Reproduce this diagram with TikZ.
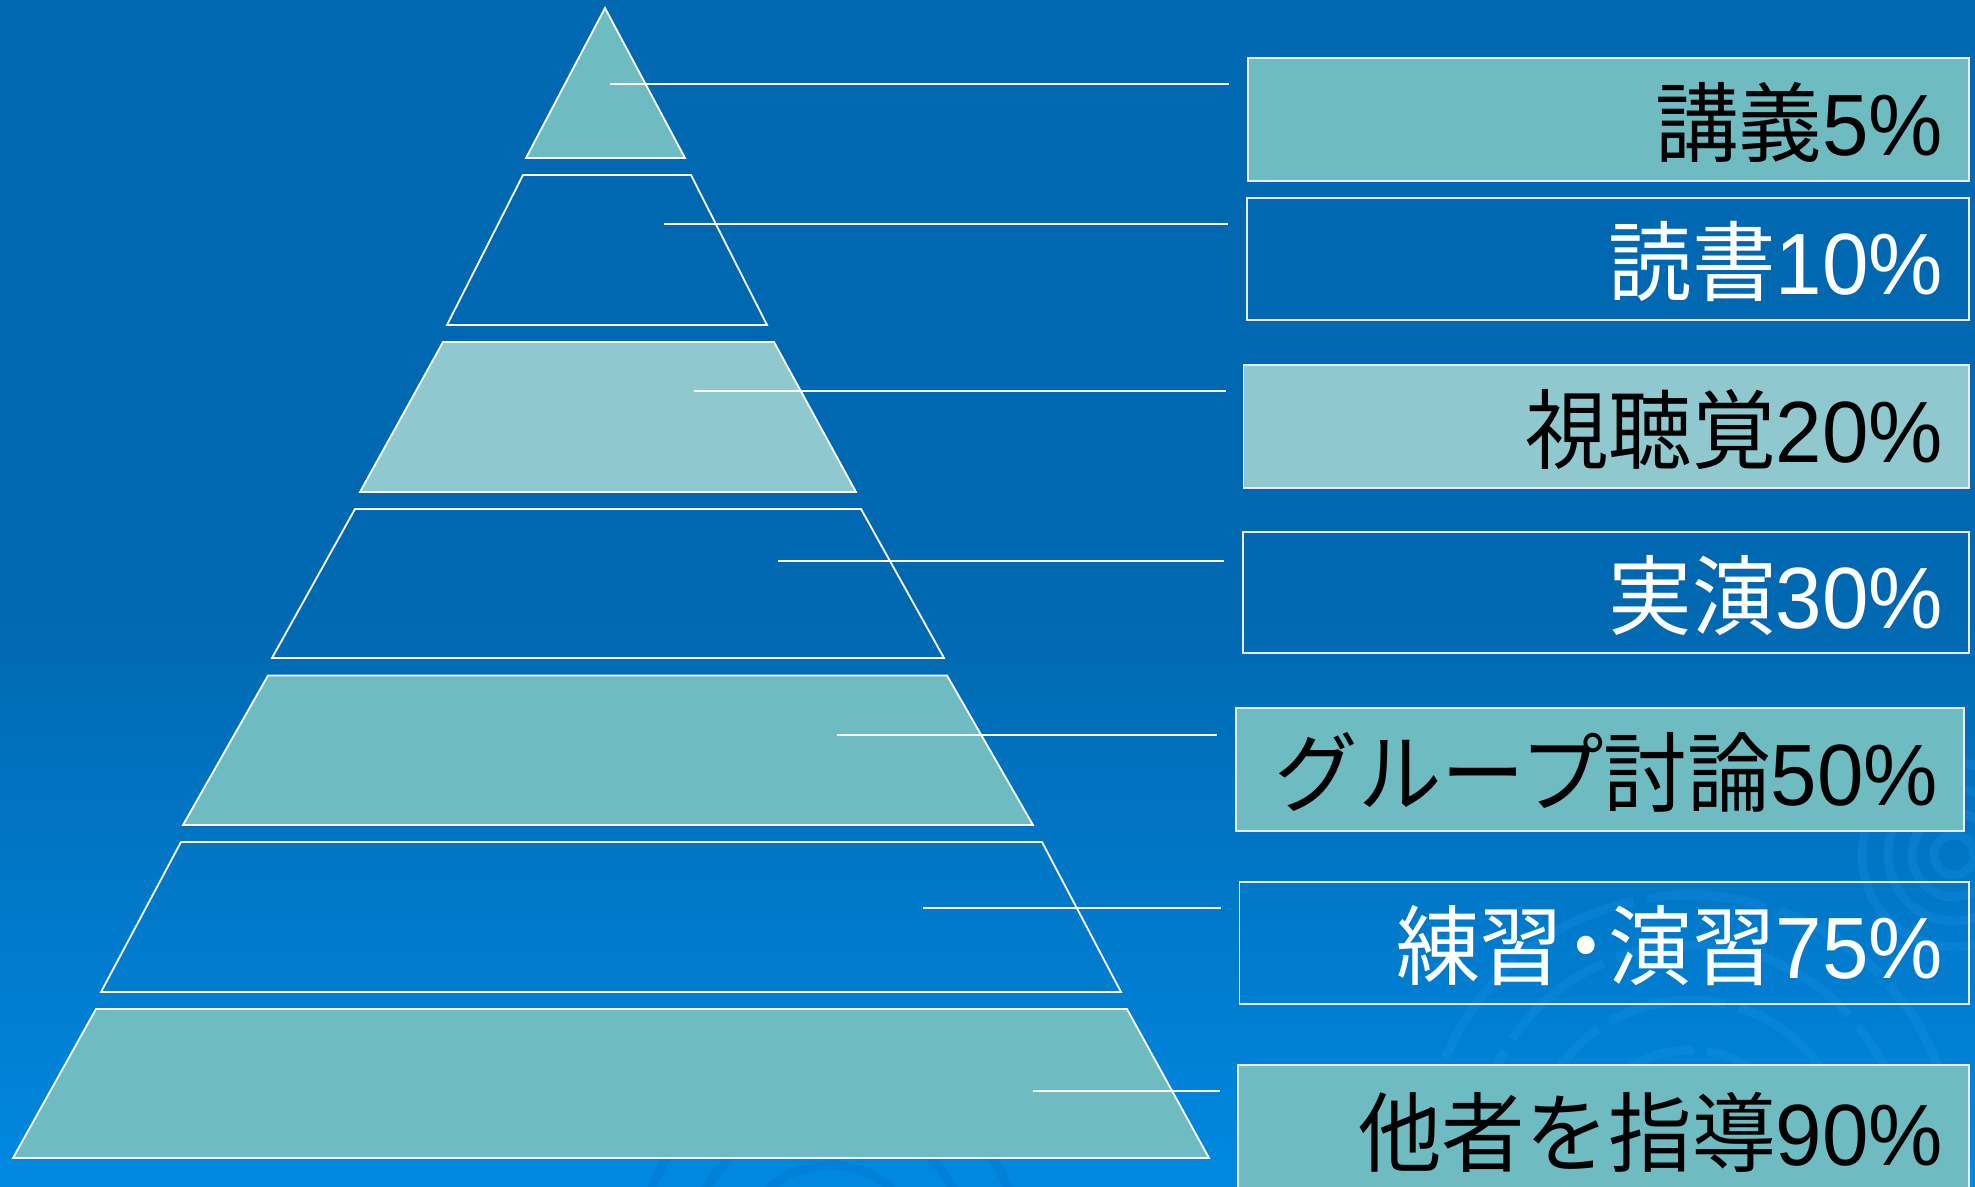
\documentclass[tikz,border=0pt]{standalone}
\usepackage{fontspec}
\setmainfont{Liberation Sans}[FakeStretch=0.96]
\newfontfamily\cjk{Noto Sans CJK JP}[FakeStretch=0.96]
\definecolor{bgtop}{HTML}{0068B0}
\definecolor{bgbot}{HTML}{0088E0}
\definecolor{teal}{HTML}{6EBBC1}
\definecolor{lteal}{HTML}{8FC9CF}
\definecolor{swirlL}{HTML}{1A92E6}
\definecolor{swirlD}{HTML}{0070C4}
\begin{document}
\begin{tikzpicture}[x=1pt,y=-1pt,
  tier/.style={draw=white,line width=1.8pt,line join=miter},
  lbox/.style={draw=white!92!blue,line width=1.8pt},
  conn/.style={draw=white,line width=1.6pt},
  lbl/.style={anchor=base east,inner sep=0pt,font=\fontsize{87}{87}\selectfont},
  swirl/.style={line width=9pt,opacity=0.3}]
\useasboundingbox (0,0) rectangle (1975,1186);
% background
\fill[bgtop] (0,0) rectangle (1975,601);
\shade[top color=bgtop,bottom color=bgbot] (0,600) rectangle (1975,1186);
% faint decorative swirls
\begin{scope}
\clip (0,600) rectangle (1975,1186);
\foreach \r in {20,42,66,92}{\draw[swirl,color=swirlL] (1954,855) circle[radius=\r];}
\foreach \r in {110,160,215,265}{\draw[swirl,color=swirlL,dash pattern=on 120pt off 14pt] (1690,1160) circle[radius=\r];}
\foreach \r in {90,140,190}{\draw[swirl,color=swirlD] (830,1255) circle[radius=\r];}
\end{scope}
% pyramid tiers
\draw[tier,fill=teal]  (605,8) -- (685,158) -- (526,158) -- cycle;
\draw[tier]            (523,175) -- (691,175) -- (767,325) -- (447,325) -- cycle;
\draw[tier,fill=lteal] (443,342) -- (774,342) -- (856,492) -- (360,492) -- cycle;
\draw[tier]            (355,509) -- (861,509) -- (944,658) -- (272,658) -- cycle;
\draw[tier,fill=teal]  (268,675.5) -- (947,675.5) -- (1033,825) -- (183,825) -- cycle;
\draw[tier]            (181,842) -- (1042,842) -- (1121,992) -- (101,992) -- cycle;
\draw[tier,fill=teal]  (96,1009) -- (1127,1009) -- (1209,1158) -- (13,1158) -- cycle;
% label boxes
\draw[lbox,fill=teal]  (1248,58) rectangle (1969,181);
\draw[lbox]            (1247,198) rectangle (1969,320);
\draw[lbox,fill=lteal] (1243.5,365) rectangle (1969,488);
\draw[lbox]            (1243,532) rectangle (1969,653);
\draw[lbox,fill=teal]  (1236,708) rectangle (1964,831);
\draw[lbox]            (1239.5,882) rectangle (1969,1004);
\draw[lbox,fill=teal]  (1238,1065) rectangle (1969,1195);
% labels
\node[lbl,text=black] (l1) at (1943,155)   {{\cjk 講義}5\%};
\node[lbl,text=white] (l2) at (1943,294.5) {{\cjk 読書}10\%};
\node[lbl,text=black] (l3) at (1943,462)   {{\cjk 視聴覚}20\%};
\node[lbl,text=white] (l4) at (1943,628)   {{\cjk 実演}30\%};
\node[lbl,text=black] (l5) at (1938,805)   {{\cjk グループ討論}50\%};
\node[lbl,text=white] (l6) at (1943,978.5) {{\cjk 練習\kern-0.22em・\kern-0.22em演習}75\%};
\node[lbl,text=black] (l7) at (1943,1165)  {{\cjk 他者を指導}90\%};
% connector end points
\coordinate (s1) at (610,84);   \coordinate (e1) at (1229,84);
\coordinate (s2) at (664,224);  \coordinate (e2) at (1228,224);
\coordinate (s3) at (694,391);  \coordinate (e3) at (1226,391);
\coordinate (s4) at (778,561);  \coordinate (e4) at (1224,561);
\coordinate (s5) at (837,735);  \coordinate (e5) at (1217,735);
\coordinate (s6) at (923,908);  \coordinate (e6) at (1221,908);
\coordinate (s7) at (1033,1091);\coordinate (e7) at (1220,1091);
\foreach \i in {1,...,7}{\draw[conn] (s\i) -- (e\i);}
\end{tikzpicture}
\end{document}
